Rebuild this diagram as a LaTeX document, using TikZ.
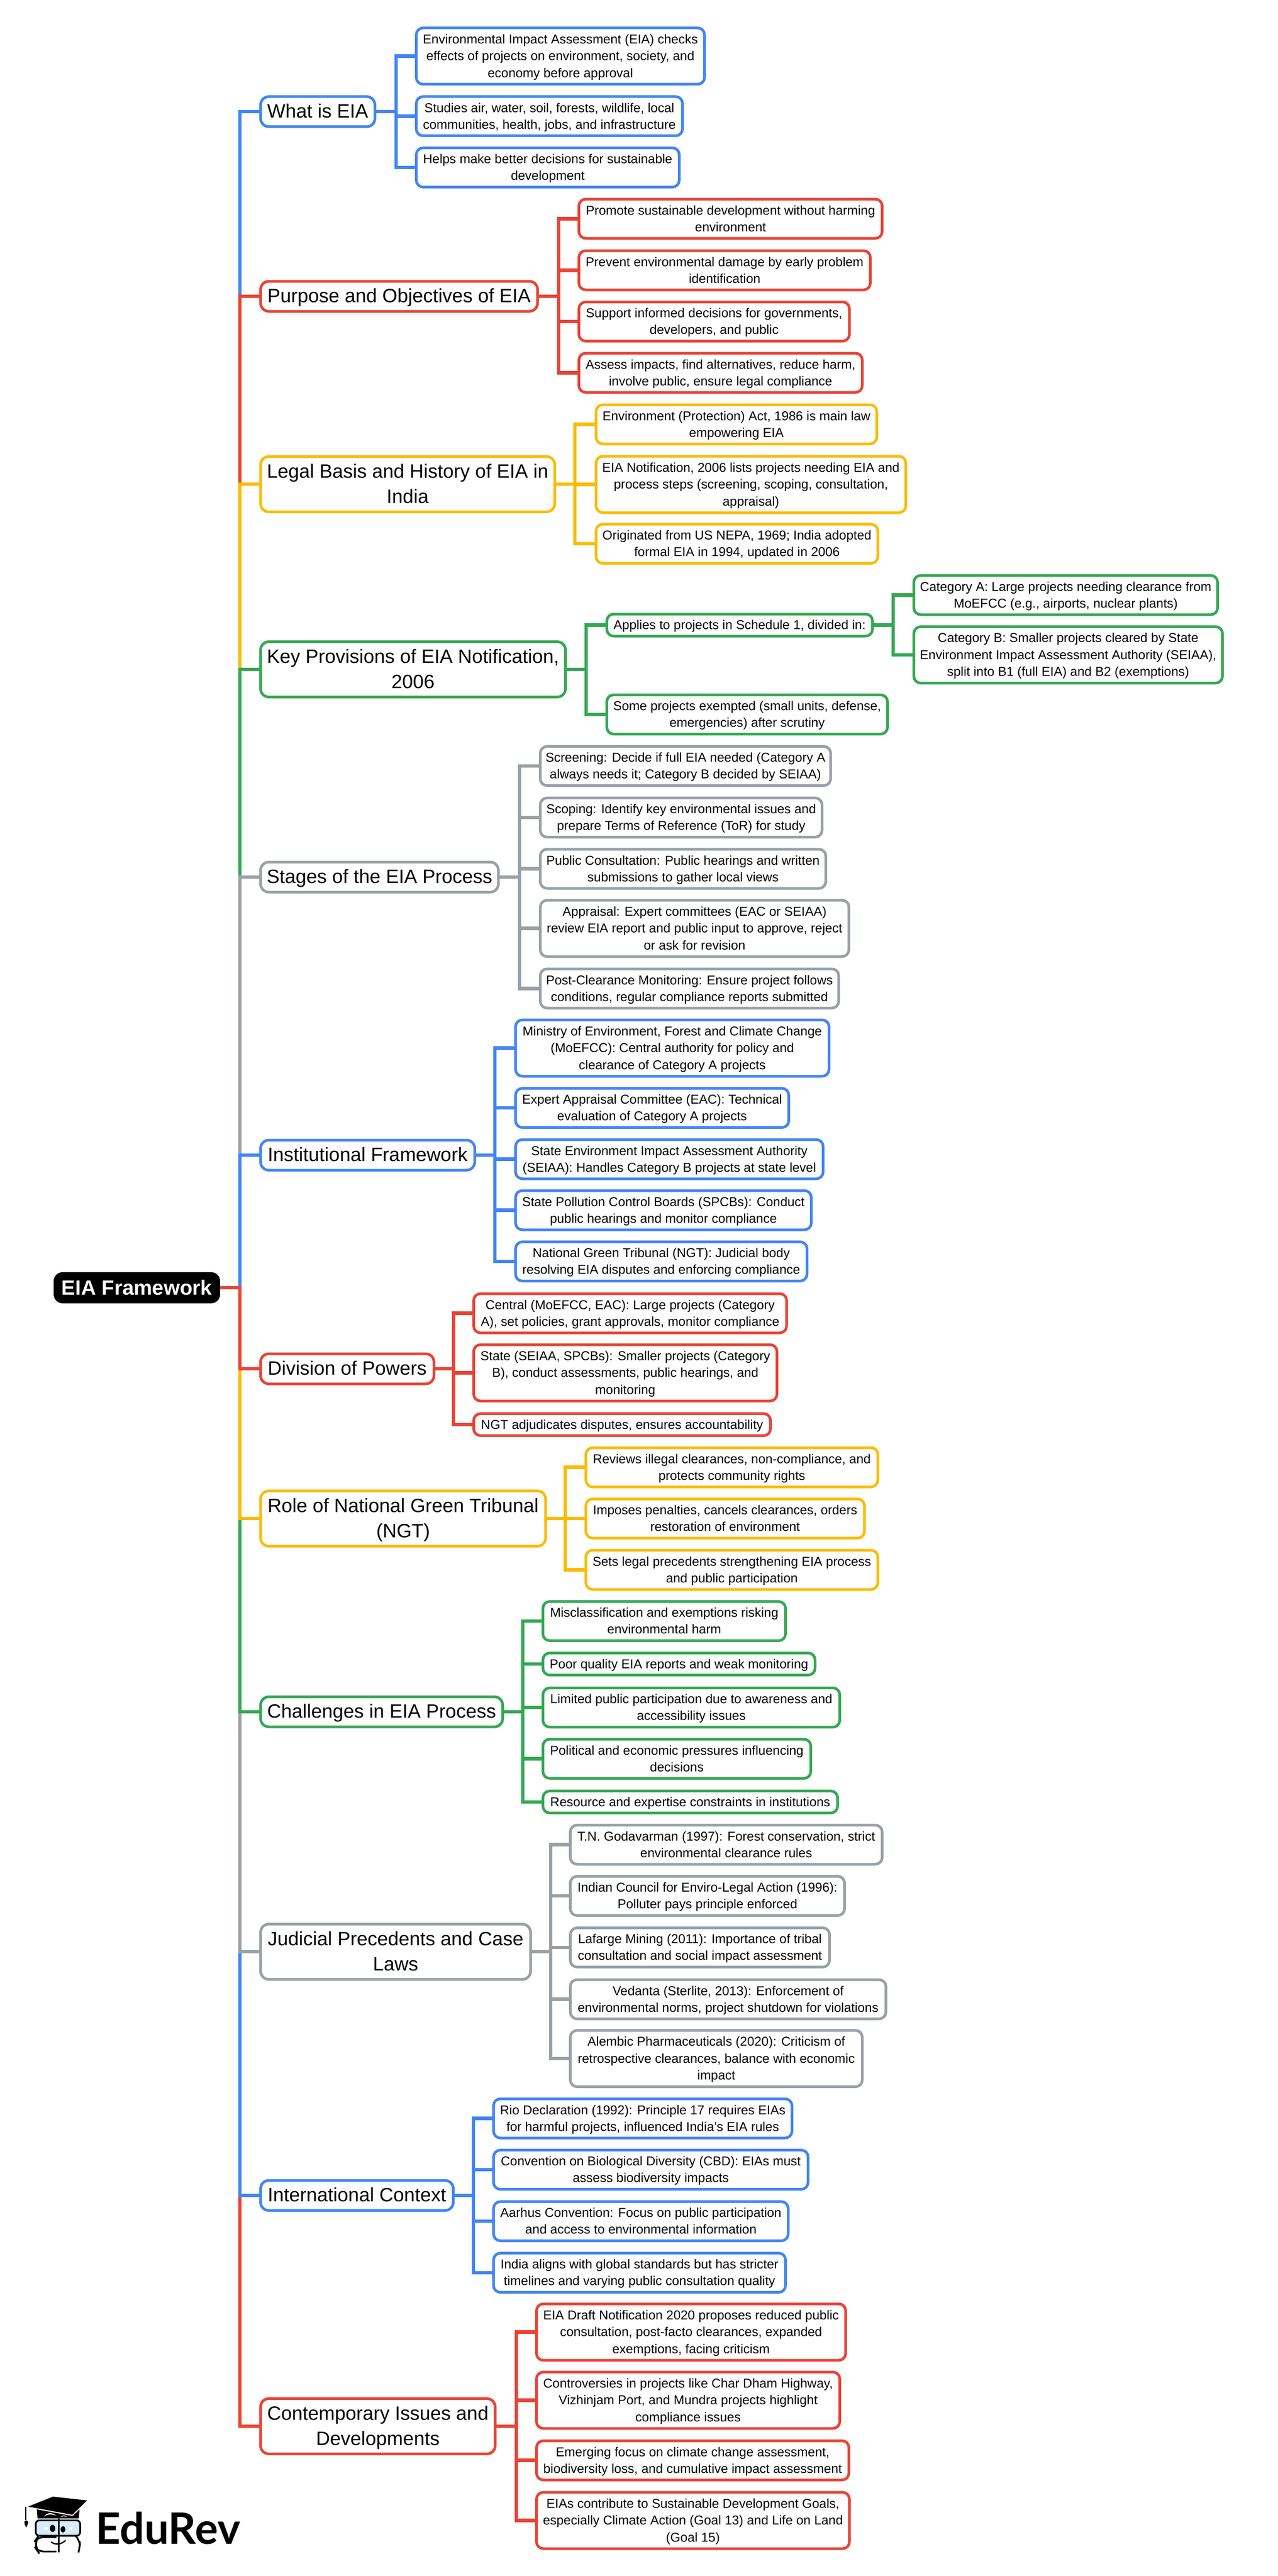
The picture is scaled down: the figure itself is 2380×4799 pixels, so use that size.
\documentclass[tikz,border=0pt]{standalone}
\usepackage{fontspec}
\setmainfont{Liberation Sans}
\newfontfamily\logofont{Lato}
\usepackage{xcolor}
\usepackage{tikz}
\usetikzlibrary{positioning,shapes.geometric}
\definecolor{eiablue}{HTML}{4285F4}
\definecolor{eiared}{HTML}{EA4335}
\definecolor{eiayellow}{HTML}{FBBC04}
\definecolor{eiagreen}{HTML}{34A853}
\definecolor{eiagray}{HTML}{9AA0A6}
\definecolor{eiaglass}{HTML}{D6ECFA}

\begin{document}
\begin{tikzpicture}[x=0.75pt, y=-0.75pt]
    \tikzstyle{wd} = [minimum width=#1*0.75pt]
    \tikzstyle{box} = [rectangle, line width=3.75pt, fill=white, text=black, inner sep=0pt, outer sep=0pt, align=center, anchor=west]
    \tikzstyle{head} = [box, rounded corners=11.5pt, minimum height=42pt, text height=26.3pt, text depth=8.7pt, font=\fontsize{27}{35}\selectfont]
    \tikzstyle{headtwo} = [head, minimum height=77.25pt, text height=61.3pt]
    \tikzstyle{leaf} = [box, rounded corners=9.5pt, minimum height=54.75pt, text height=41.3pt, text depth=5.5pt, font=\fontsize{18}{23.5}\selectfont]
    \tikzstyle{tall} = [minimum height=78.75pt, text height=64.8pt]
    \tikzstyle{slim} = [minimum height=30.75pt, text height=17.8pt]
    \tikzstyle{link} = [line width=4.9pt]

    \useasboundingbox (0,0) rectangle (2380,4799);

    % Root and spine
    \node [rectangle, rounded corners=12.5pt, fill=black, text=white, inner sep=0pt, outer sep=0pt, minimum width=232.5pt, minimum height=43.5pt, font=\bfseries\fontsize{28.9}{35}\selectfont] (root) at (255,2399) {EIA Framework};
    \coordinate (spine) at (447,2399);

    % What is EIA
    \node [head, draw=eiablue, wd=213] (what) at (485.5,208) {What is EIA};
    \node [leaf, tall, draw=eiablue, wd=537] (whata) at (775.5,104.5) {Environmental Impact Assessment (EIA) checks\\effects of projects on environment, society, and\\economy before approval};
    \node [leaf, draw=eiablue, wd=496] (whatb) at (775.5,216.5) {Studies air, water, soil, forests, wildlife, local\\communities, health, jobs, and infrastructure};
    \node [leaf, draw=eiablue, wd=490] (whatc) at (775.5,312) {Helps make better decisions for sustainable\\development};
    \coordinate (whatbus) at (738,208);

    % Purpose and objectives
    \node [head, draw=eiared, wd=516] (purpose) at (485.5,552) {Purpose and Objectives of EIA};
    \node [leaf, draw=eiared, wd=565] (purposea) at (1078.5,407.5) {Promote sustainable development without harming\\environment};
    \node [leaf, draw=eiared, wd=543] (purposeb) at (1078.5,503.5) {Prevent environmental damage by early problem\\identification};
    \node [leaf, draw=eiared, wd=504] (purposec) at (1078.5,599) {Support informed decisions for governments,\\developers, and public};
    \node [leaf, draw=eiared, wd=528] (purposed) at (1078.5,694.5) {Assess impacts, find alternatives, reduce harm,\\involve public, ensure legal compliance};
    \coordinate (purposebus) at (1041,552);

    % Legal basis
    \node [headtwo, draw=eiayellow, wd=548] (legal) at (485.5,902) {Legal Basis and History of EIA in\\India};
    \node [leaf, draw=eiayellow, wd=523] (legala) at (1110.5,790.5) {Environment (Protection) Act, 1986 is main law\\empowering EIA};
    \node [leaf, tall, draw=eiayellow, wd=577] (legalb) at (1110.5,902.5) {EIA Notification, 2006 lists projects needing EIA and\\process steps (screening, scoping, consultation,\\appraisal)};
    \node [leaf, draw=eiayellow, wd=525] (legalc) at (1110.5,1013) {Originated from US NEPA, 1969; India adopted\\formal EIA in 1994, updated in 2006};
    \coordinate (legalbus) at (1071,902);

    % Key provisions
    \node [headtwo, draw=eiagreen, wd=568] (key) at (485.5,1247) {Key Provisions of EIA Notification,\\2006};
    \node [leaf, slim, draw=eiagreen, wd=495] (keya) at (1130.5,1164.5) {Applies to projects in Schedule 1, divided in:};
    \node [leaf, draw=eiagreen, wd=523] (keyb) at (1130.5,1331) {Some projects exempted (small units, defense,\\emergencies) after scrutiny};
    \node [leaf, draw=eiagreen, wd=566] (cata) at (1702.5,1108.5) {Category A: Large projects needing clearance from\\MoEFCC (e.g., airports, nuclear plants)};
    \node [leaf, tall, draw=eiagreen, wd=575] (catb) at (1702.5,1220) {Category B: Smaller projects cleared by State\\Environment Impact Assessment Authority (SEIAA),\\split into B1 (full EIA) and B2 (exemptions)};
    \coordinate (keybus) at (1092,1247);
    \coordinate (catbus) at (1664,1164.5);

    % Stages
    \node [head, draw=eiagray, wd=443] (stages) at (485.5,1634) {Stages of the EIA Process};
    \node [leaf, draw=eiagray, wd=541] (stagea) at (1006.5,1427) {Screening: Decide if full EIA needed (Category A\\always needs it; Category B decided by SEIAA)};
    \node [leaf, draw=eiagray, wd=525] (stageb) at (1006.5,1523) {Scoping: Identify key environmental issues and\\prepare Terms of Reference (ToR) for study};
    \node [leaf, draw=eiagray, wd=532] (stagec) at (1006.5,1618.5) {Public Consultation: Public hearings and written\\submissions to gather local views};
    \node [leaf, tall, draw=eiagray, wd=575] (staged) at (1006.5,1729.5) {Appraisal: Expert committees (EAC or SEIAA)\\review EIA report and public input to approve, reject\\or ask for revision};
    \node [leaf, draw=eiagray, wd=556] (stagee) at (1006.5,1841.5) {Post-Clearance Monitoring: Ensure project follows\\conditions, regular compliance reports submitted};
    \coordinate (stagesbus) at (968,1634);

    % Institutional framework
    \node [head, draw=eiablue, wd=399] (inst) at (485.5,2152) {Institutional Framework};
    \node [leaf, tall, draw=eiablue, wd=584] (insta) at (960.5,1952.5) {Ministry of Environment, Forest and Climate Change\\(MoEFCC): Central authority for policy and\\clearance of Category A projects};
    \node [leaf, draw=eiablue, wd=509] (instb) at (960.5,2064) {Expert Appraisal Committee (EAC): Technical\\evaluation of Category A projects};
    \node [leaf, draw=eiablue, wd=573] (instc) at (960.5,2159.5) {State Environment Impact Assessment Authority\\(SEIAA): Handles Category B projects at state level};
    \node [leaf, draw=eiablue, wd=551] (instd) at (960.5,2254.5) {State Pollution Control Boards (SPCBs): Conduct\\public hearings and monitor compliance};
    \node [leaf, draw=eiablue, wd=543] (inste) at (960.5,2350) {National Green Tribunal (NGT): Judicial body\\resolving EIA disputes and enforcing compliance};
    \coordinate (instbus) at (922,2152);

    % Division of powers
    \node [head, draw=eiared, wd=323] (division) at (485.5,2550) {Division of Powers};
    \node [leaf, draw=eiared, wd=583] (divisiona) at (882.5,2446.5) {Central (MoEFCC, EAC): Large projects (Category\\A), set policies, grant approvals, monitor compliance};
    \node [leaf, tall, draw=eiared, wd=565] (divisionb) at (882.5,2557.5) {State (SEIAA, SPCBs): Smaller projects (Category\\B), conduct assessments, public hearings, and\\monitoring};
    \node [leaf, slim, draw=eiared, wd=553] (divisionc) at (882.5,2654) {NGT adjudicates disputes, ensures accountability};
    \coordinate (divisionbus) at (845,2550);

    % Role of NGT
    \node [headtwo, draw=eiayellow, wd=531] (role) at (485.5,2829) {Role of National Green Tribunal\\(NGT)};
    \node [leaf, draw=eiayellow, wd=544] (rolea) at (1091.5,2733.5) {Reviews illegal clearances, non-compliance, and\\protects community rights};
    \node [leaf, draw=eiayellow, wd=519] (roleb) at (1091.5,2829) {Imposes penalties, cancels clearances, orders\\restoration of environment};
    \node [leaf, draw=eiayellow, wd=544] (rolec) at (1091.5,2924.5) {Sets legal precedents strengthening EIA process\\and public participation};
    \coordinate (rolebus) at (1053,2829);

    % Challenges
    \node [head, draw=eiagreen, wd=451] (challenges) at (485.5,3189) {Challenges in EIA Process};
    \node [leaf, draw=eiagreen, wd=452] (challengea) at (1011.5,3020) {Misclassification and exemptions risking\\environmental harm};
    \node [leaf, slim, draw=eiagreen, wd=507] (challengeb) at (1011.5,3100) {Poor quality EIA reports and weak monitoring};
    \node [leaf, draw=eiagreen, wd=553] (challengec) at (1011.5,3181) {Limited public participation due to awareness and\\accessibility issues};
    \node [leaf, draw=eiagreen, wd=499] (challenged) at (1011.5,3276.5) {Political and economic pressures influencing\\decisions};
    \node [leaf, slim, draw=eiagreen, wd=549] (challengee) at (1011.5,3357) {Resource and expertise constraints in institutions};
    \coordinate (challengesbus) at (974,3189);

    % Judicial precedents
    \node [headtwo, draw=eiagray, wd=503] (judicial) at (485.5,3636) {Judicial Precedents and Case\\Laws};
    \node [leaf, draw=eiagray, wd=581] (judiciala) at (1062.5,3436.5) {T.N. Godavarman (1997): Forest conservation, strict\\environmental clearance rules};
    \node [leaf, draw=eiagray, wd=511] (judicialb) at (1062.5,3532) {Indian Council for Enviro-Legal Action (1996):\\Polluter pays principle enforced};
    \node [leaf, draw=eiagray, wd=483] (judicialc) at (1062.5,3628) {Lafarge Mining (2011): Importance of tribal\\consultation and social impact assessment};
    \node [leaf, draw=eiagray, wd=588] (judiciald) at (1062.5,3724.5) {Vedanta (Sterlite, 2013): Enforcement of\\environmental norms, project shutdown for violations};
    \node [leaf, tall, draw=eiagray, wd=544] (judiciale) at (1062.5,3835) {Alembic Pharmaceuticals (2020): Criticism of\\retrospective clearances, balance with economic\\impact};
    \coordinate (judicialbus) at (1026,3636);

    % International context
    \node [head, draw=eiablue, wd=359] (intl) at (485.5,4090) {International Context};
    \node [leaf, draw=eiablue, wd=556] (intla) at (919.5,3946.5) {Rio Declaration (1992): Principle 17 requires EIAs\\for harmful projects, influenced India's EIA rules};
    \node [leaf, draw=eiablue, wd=586] (intlb) at (919.5,4042) {Convention on Biological Diversity (CBD): EIAs must\\assess biodiversity impacts};
    \node [leaf, draw=eiablue, wd=549] (intlc) at (919.5,4138) {Aarhus Convention: Focus on public participation\\and access to environmental information};
    \node [leaf, draw=eiablue, wd=544] (intld) at (919.5,4234) {India aligns with global standards but has stricter\\timelines and varying public consultation quality};
    \coordinate (intlbus) at (882,4090);

    % Contemporary issues
    \node [headtwo, draw=eiared, wd=437] (contemp) at (485.5,4520) {Contemporary Issues and\\Developments};
    \node [leaf, tall, draw=eiared, wd=576] (contempa) at (999.5,4344.5) {EIA Draft Notification 2020 proposes reduced public\\consultation, post-facto clearances, expanded\\exemptions, facing criticism};
    \node [leaf, tall, draw=eiared, wd=565] (contempb) at (999.5,4471.5) {Controversies in projects like Char Dham Highway,\\Vizhinjam Port, and Mundra projects highlight\\compliance issues};
    \node [leaf, draw=eiared, wd=582] (contempc) at (999.5,4583.5) {Emerging focus on climate change assessment,\\biodiversity loss, and cumulative impact assessment};
    \node [leaf, tall, draw=eiared, wd=583] (contempd) at (999.5,4695.5) {EIAs contribute to Sustainable Development Goals,\\especially Climate Action (Goal 13) and Life on Land\\(Goal 15)};
    \coordinate (contempbus) at (962,4520);

    % Spine connectors, outermost first
    \draw [link, eiablue] (root.east) -- (spine) |- (what.west);
    \draw [link, eiared] (root.east) -- (spine) |- (purpose.west);
    \draw [link, eiayellow] (root.east) -- (spine) |- (legal.west);
    \draw [link, eiagreen] (root.east) -- (spine) |- (key.west);
    \draw [link, eiagray] (root.east) -- (spine) |- (stages.west);
    \draw [link, eiablue] (root.east) -- (spine) |- (inst.west);
    \draw [link, eiared] (root.east) -- (spine) |- (contemp.west);
    \draw [link, eiablue] (root.east) -- (spine) |- (intl.west);
    \draw [link, eiagray] (root.east) -- (spine) |- (judicial.west);
    \draw [link, eiagreen] (root.east) -- (spine) |- (challenges.west);
    \draw [link, eiayellow] (root.east) -- (spine) |- (role.west);
    \draw [link, eiared] (root.east) -- (spine) |- (division.west);

    % Branch connectors
    \draw [link, eiablue] (what.east) -- (whatbus) |- (whata.west);
    \draw [link, eiablue] (what.east) -- (whatbus) |- (whatb.west);
    \draw [link, eiablue] (what.east) -- (whatbus) |- (whatc.west);

    \draw [link, eiared] (purpose.east) -- (purposebus) |- (purposea.west);
    \draw [link, eiared] (purpose.east) -- (purposebus) |- (purposeb.west);
    \draw [link, eiared] (purpose.east) -- (purposebus) |- (purposec.west);
    \draw [link, eiared] (purpose.east) -- (purposebus) |- (purposed.west);

    \draw [link, eiayellow] (legal.east) -- (legalbus) |- (legala.west);
    \draw [link, eiayellow] (legal.east) -- (legalbus) |- (legalb.west);
    \draw [link, eiayellow] (legal.east) -- (legalbus) |- (legalc.west);

    \draw [link, eiagreen] (key.east) -- (keybus) |- (keya.west);
    \draw [link, eiagreen] (key.east) -- (keybus) |- (keyb.west);
    \draw [link, eiagreen] (keya.east) -- (catbus) |- (cata.west);
    \draw [link, eiagreen] (keya.east) -- (catbus) |- (catb.west);

    \draw [link, eiagray] (stages.east) -- (stagesbus) |- (stagea.west);
    \draw [link, eiagray] (stages.east) -- (stagesbus) |- (stageb.west);
    \draw [link, eiagray] (stages.east) -- (stagesbus) |- (stagec.west);
    \draw [link, eiagray] (stages.east) -- (stagesbus) |- (staged.west);
    \draw [link, eiagray] (stages.east) -- (stagesbus) |- (stagee.west);

    \draw [link, eiablue] (inst.east) -- (instbus) |- (insta.west);
    \draw [link, eiablue] (inst.east) -- (instbus) |- (instb.west);
    \draw [link, eiablue] (inst.east) -- (instbus) |- (instc.west);
    \draw [link, eiablue] (inst.east) -- (instbus) |- (instd.west);
    \draw [link, eiablue] (inst.east) -- (instbus) |- (inste.west);

    \draw [link, eiared] (division.east) -- (divisionbus) |- (divisiona.west);
    \draw [link, eiared] (division.east) -- (divisionbus) |- (divisionb.west);
    \draw [link, eiared] (division.east) -- (divisionbus) |- (divisionc.west);

    \draw [link, eiayellow] (role.east) -- (rolebus) |- (rolea.west);
    \draw [link, eiayellow] (role.east) -- (rolebus) |- (roleb.west);
    \draw [link, eiayellow] (role.east) -- (rolebus) |- (rolec.west);

    \draw [link, eiagreen] (challenges.east) -- (challengesbus) |- (challengea.west);
    \draw [link, eiagreen] (challenges.east) -- (challengesbus) |- (challengeb.west);
    \draw [link, eiagreen] (challenges.east) -- (challengesbus) |- (challengec.west);
    \draw [link, eiagreen] (challenges.east) -- (challengesbus) |- (challenged.west);
    \draw [link, eiagreen] (challenges.east) -- (challengesbus) |- (challengee.west);

    \draw [link, eiagray] (judicial.east) -- (judicialbus) |- (judiciala.west);
    \draw [link, eiagray] (judicial.east) -- (judicialbus) |- (judicialb.west);
    \draw [link, eiagray] (judicial.east) -- (judicialbus) |- (judicialc.west);
    \draw [link, eiagray] (judicial.east) -- (judicialbus) |- (judiciald.west);
    \draw [link, eiagray] (judicial.east) -- (judicialbus) |- (judiciale.west);

    \draw [link, eiablue] (intl.east) -- (intlbus) |- (intla.west);
    \draw [link, eiablue] (intl.east) -- (intlbus) |- (intlb.west);
    \draw [link, eiablue] (intl.east) -- (intlbus) |- (intlc.west);
    \draw [link, eiablue] (intl.east) -- (intlbus) |- (intld.west);

    \draw [link, eiared] (contemp.east) -- (contempbus) |- (contempa.west);
    \draw [link, eiared] (contemp.east) -- (contempbus) |- (contempb.west);
    \draw [link, eiared] (contemp.east) -- (contempbus) |- (contempc.west);
    \draw [link, eiared] (contemp.east) -- (contempbus) |- (contempd.west);

    % Logo
    \node [anchor=west, inner sep=0pt, font=\logofont\bfseries\fontsize{60.5}{62}\selectfont] (logotext) at (178,4710) {EduRev};
    \begin{scope}[shift={(30,4620)}, x=0.25pt, y=-0.25pt]
        \fill (115,160) -- (120,215) -- (350,215) -- (355,160) -- cycle;
        \fill [white] (155,205) .. controls (175,180) and (200,180) .. (225,200) .. controls (200,190) and (175,190) .. cycle;
        \fill [white] (248,208) .. controls (260,195) and (275,195) .. (288,208) .. controls (275,202) and (260,202) .. cycle;
        \draw [white, line width=1.5pt, fill=black] (55,150) -- (205,90) -- (405,112) -- (315,198) -- cycle;
        \draw [line width=1.5pt] (55,150) -- (55,225);
        \fill (46,235) .. controls (50,225) and (62,222) .. (68,235) .. controls (66,248) and (60,258) .. (56,266) .. controls (52,258) and (47,248) .. cycle;
        \draw [line width=2.4pt, fill=eiaglass, rounded corners=5pt] (110,226) rectangle (358,312);
        \draw [line width=2.4pt, rounded corners=8pt] (225,320) -- (120,320) -- (110,335) -- (112,385) -- (122,400) -- (225,400);
        \draw [line width=2.4pt, rounded corners=8pt] (340,320) -- (355,335) -- (358,375) -- (350,400);
        \draw [line width=2.6pt] (238,215) -- (238,405);
        \fill [white] (155,265) rectangle (176,278);
        \fill [white] (296,265) rectangle (316,278);
        \fill (204,271) ellipse [x radius=15, y radius=20];
        \fill (262,276) ellipse [x radius=13, y radius=18];
        \draw [line width=1.8pt] (195,346) .. controls (220,365) and (250,362) .. (277,338);
    \end{scope}
\end{tikzpicture}
\end{document}
